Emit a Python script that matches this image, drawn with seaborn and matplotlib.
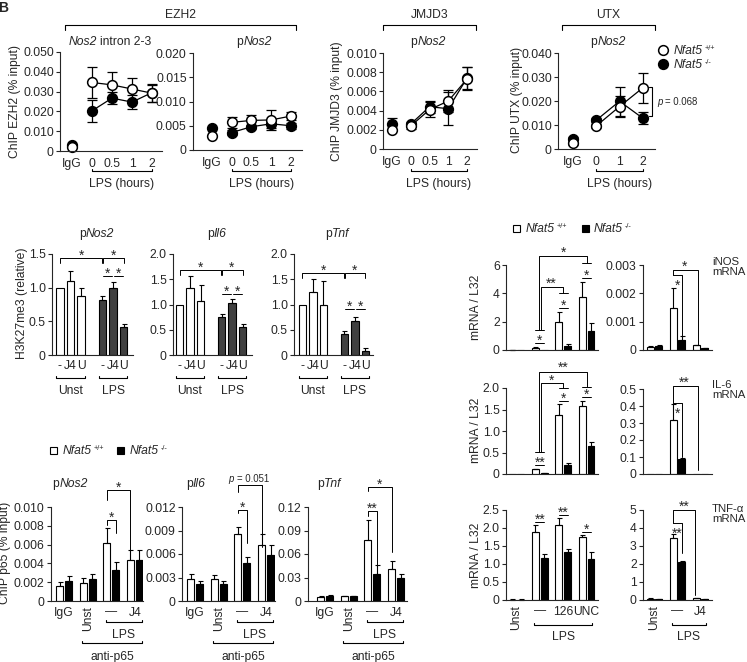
import numpy as np
import pandas as pd
import matplotlib
matplotlib.use("Agg")
import matplotlib.pyplot as plt
import matplotlib.transforms as mtransforms
from matplotlib.lines import Line2D
from matplotlib.patches import Rectangle
import seaborn as sns

# ---------------- data ----------------
# top row: ChIP time courses (% input), LPS hours
time_cats = ["IgG", "0", "0.5", "1", "2"]
utx_cats = ["IgG", "0", "1", "2"]

ezh2_intron_wt = [0.0022, 0.0346, 0.0334, 0.0313, 0.0292]
ezh2_intron_wt_err = [0.0005, 0.0076, 0.0063, 0.0055, 0.0042]
ezh2_intron_ko = [0.0028, 0.0203, 0.0267, 0.0247, 0.0295]
ezh2_intron_ko_err = [0.0005, 0.0055, 0.0030, 0.0036, 0.0045]

ezh2_pnos2_wt = [0.0028, 0.0057, 0.0061, 0.0062, 0.0070]
ezh2_pnos2_wt_err = [0.0002, 0.0012, 0.0011, 0.0021, 0.0009]
ezh2_pnos2_ko = [0.0046, 0.0036, 0.0048, 0.0054, 0.0050]
ezh2_pnos2_ko_err = [0.0002, 0.0006, 0.0004, 0.0008, 0.0006]

jmjd3_wt = [0.0020, 0.0024, 0.0041, 0.0050, 0.0073]
jmjd3_wt_err = [0.0001, 0.0003, 0.0008, 0.0011, 0.0012]
jmjd3_ko = [0.0026, 0.0026, 0.0044, 0.0042, 0.0074]
jmjd3_ko_err = [0.0006, 0.0002, 0.0006, 0.0017, 0.0011]

utx_wt = [0.0026, 0.0096, 0.0177, 0.0255]
utx_wt_err = [0.0010, 0.0008, 0.0045, 0.0062]
utx_ko = [0.0043, 0.0120, 0.0199, 0.0128]
utx_ko_err = [0.0005, 0.0008, 0.0060, 0.0025]

# middle: H3K27me3 (relative)
h3_stim = ["Unst", "LPS"]
h3_inhib = ["-", "J4", "U"]
h3_nos2_unst, h3_nos2_unst_err = [1.00, 1.10, 0.88], [0, 0.15, 0.11]
h3_nos2_lps, h3_nos2_lps_err = [0.82, 1.00, 0.41], [0.06, 0.08, 0.05]
h3_il6_unst, h3_il6_unst_err = [1.00, 1.32, 1.07], [0, 0.25, 0.31]
h3_il6_lps, h3_il6_lps_err = [0.76, 1.02, 0.55], [0.06, 0.08, 0.07]
h3_tnf_unst, h3_tnf_unst_err = [1.00, 1.24, 0.99], [0, 0.26, 0.47]
h3_tnf_lps, h3_tnf_lps_err = [0.41, 0.67, 0.08], [0.06, 0.09, 0.05]

# bottom left: ChIP p65 (% input)
p65_groups = ["IgG", "Unst", "LPS", "LPS+J4"]
p65_ticklabels = ["IgG", "Unst", "\u2014", "J4"]
p65_nos2_wt, p65_nos2_wt_err = [0.00164, 0.0019, 0.0062, 0.0044], [0.0004, 0.0005, 0.0016, 0.0010]
p65_nos2_ko, p65_nos2_ko_err = [0.0021, 0.0023, 0.0033, 0.0044], [0.0006, 0.0006, 0.0008, 0.0010]
p65_il6_wt, p65_il6_wt_err = [0.0028, 0.0028, 0.0085, 0.0072], [0.0007, 0.0005, 0.0010, 0.0013]
p65_il6_ko, p65_il6_ko_err = [0.0022, 0.0022, 0.0048, 0.0059], [0.0003, 0.0004, 0.0008, 0.0013]
p65_tnf_wt, p65_tnf_wt_err = [0.0055, 0.0060, 0.0785, 0.0403], [0.0008, 0.0008, 0.0245, 0.0106]
p65_tnf_ko, p65_tnf_ko_err = [0.0065, 0.0058, 0.0350, 0.0288], [0.0008, 0.0006, 0.0108, 0.0062]

# right: mRNA / L32
mrna_groups = ["Unst", "LPS", "LPS+126", "LPS+UNC"]
mrna_ticklabels = ["Unst", "\u2014", "126", "UNC"]
inos_wt, inos_wt_err = [0.02, 0.16, 2.00, 3.72], [0.01, 0.06, 0.70, 1.06]
inos_ko, inos_ko_err = [0.01, 0.02, 0.31, 1.36], [0, 0, 0.09, 0.52]
il6_wt, il6_wt_err = [0.005, 0.11, 1.38, 1.58], [0, 0.01, 0.24, 0.12]
il6_ko, il6_ko_err = [0.005, 0.02, 0.20, 0.64], [0, 0.005, 0.05, 0.10]
tnf_wt, tnf_wt_err = [0.01, 1.89, 2.09, 1.74], [0.005, 0.20, 0.19, 0.07]
tnf_ko, tnf_ko_err = [0.01, 1.18, 1.34, 1.15], [0.005, 0.09, 0.09, 0.17]

j4_groups = ["Unst", "LPS", "LPS+J4"]
j4_ticklabels = ["Unst", "\u2014", "J4"]
inos_j4_wt, inos_j4_wt_err = [0.00012, 0.0015, 0.00016], [0.00003, 0.0007, 0.00002]
inos_j4_ko, inos_j4_ko_err = [0.00014, 0.00035, 0.00007], [0.00002, 0.00015, 0.00001]
il6_j4_wt, il6_j4_wt_err = [0.002, 0.32, 0.002], [0, 0.09, 0]
il6_j4_ko, il6_j4_ko_err = [0.001, 0.087, 0.001], [0, 0.01, 0]
tnf_j4_wt, tnf_j4_wt_err = [0.08, 3.43, 0.10], [0.02, 0.25, 0.02]
tnf_j4_ko, tnf_j4_ko_err = [0.05, 2.11, 0.05], [0.01, 0.06, 0.01]

# ---------------- style ----------------
sns.set_style("ticks")
plt.rcParams["font.family"] = ["Liberation Sans", "DejaVu Sans"]
plt.rcParams["axes.linewidth"] = 0.8
FS = 8.7
STAR = 10
DARK = "#404040"
W, H = 747, 662

fig = plt.figure(figsize=(W / 100, H / 100), dpi=100)


def fy(y):
    return 1 - y / H


def add_ax(l, t, r, b):
    return fig.add_axes([l / W, fy(b), (r - l) / W, (b - t) / H])


def fline(xs, ys, lw=0.8):
    fig.add_artist(Line2D([x / W for x in xs], [fy(y) for y in ys], color="black", lw=lw))


def ftext(x, y, s, **kw):
    kw.setdefault("fontsize", FS)
    kw.setdefault("ha", "center")
    kw.setdefault("va", "center")
    fig.text(x / W, fy(y), s, **kw)


def rich(x, y, parts, ha="left", fs=FS):
    # parts: (text, italic, size scale, rise px, gap px); y is the baseline in px
    r = fig.canvas.get_renderer()
    arts, total = [], 0
    for s, it, sc, rise, gap in parts:
        t = fig.text(0, 0, s, fontsize=fs * sc, style="italic" if it else "normal",
                     ha="left", va="baseline")
        w = t.get_window_extent(r).width
        arts.append((t, total + gap, rise))
        total += gap + w
    x0 = x - total / 2 if ha == "center" else x
    for t, off, rise in arts:
        t.set_position(((x0 + off) / W, fy(y - rise)))


def geno_label(x, y, sup):
    rich(x, y, [("Nfat5", True, 1, 0, 0), (sup, False, 0.6, 4, 2)])


def ticklabels(vals, nd):
    return ["0" if v == 0 else f"{v:.{nd}f}" for v in vals]


def finish(ax, yticks, nd, xlim, xpad=5):
    sns.despine(ax=ax)
    ax.set_ylim(yticks[0], yticks[-1])
    ax.set_yticks(yticks, ticklabels(yticks, nd))
    ax.set_xlim(*xlim)
    ax.set_xlabel("")
    ax.set_ylabel("")
    ax.tick_params(axis="y", length=3, width=0.8, pad=1.5, labelsize=FS)
    ax.tick_params(axis="x", length=0, pad=xpad, labelsize=FS)


def bracket(ax, x0, x1, y, y0, y1, lw=0.7):
    ax.plot([x0, x0, x1, x1], [y0, y, y, y1], color="black", lw=lw, clip_on=False)


def hline(ax, x0, x1, y, lw=0.7):
    ax.plot([x0, x1], [y, y], color="black", lw=lw, clip_on=False)


def star(ax, x, y, s, dy=6, fs=STAR):
    ax.annotate(s, (x, y), xytext=(0, dy * 0.72 - 0.56 * fs), textcoords="offset points",
                ha="center", va="baseline", fontsize=fs, annotation_clip=False)


def under(ax, x0, x1, ypx, text=None, ty=None, up=2.5):
    tr = mtransforms.blended_transform_factory(ax.transData, fig.transFigure)
    ax.plot([x0, x0, x1, x1], [fy(ypx - up), fy(ypx), fy(ypx), fy(ypx - up)],
            transform=tr, color="black", lw=0.8, clip_on=False)
    if text:
        ax.text((x0 + x1) / 2, fy(ty), text, transform=tr, ha="center", va="center", fontsize=FS)


# ---------------- top row: line panels ----------------
def time_panel(rect, cats, wt, wt_err, ko, ko_err, yticks, nd, xlim):
    ax = add_ax(*rect)
    for vals, errs, face in [(ko, ko_err, "black"), (wt, wt_err, "white")]:
        df = pd.DataFrame({"time": cats, "value": vals})
        kw = dict(x="time", y="value", order=cats, color="black", marker="o", markersize=7,
                  markeredgewidth=1.1, markerfacecolor=face, linewidth=0.9, errorbar=None,
                  clip_on=False, ax=ax)
        sns.pointplot(data=df[df.time == cats[0]], linestyle="none", **kw)
        sns.pointplot(data=df[df.time != cats[0]], linestyle="-", **kw)
        ax.errorbar(range(len(cats)), vals, yerr=errs, fmt="none", ecolor="black",
                    elinewidth=0.9, capsize=3.5, capthick=0.9, zorder=1.5, clip_on=False)
    finish(ax, yticks, nd, xlim)
    under(ax, 1, len(cats) - 1, 171, "LPS (hours)", 184)
    return ax


time_panel((60, 52, 162, 151), time_cats, ezh2_intron_wt, ezh2_intron_wt_err,
           ezh2_intron_ko, ezh2_intron_ko_err, [0, 0.01, 0.02, 0.03, 0.04, 0.05], 3, (-0.6, 4.5))
time_panel((193, 53, 302, 150), time_cats, ezh2_pnos2_wt, ezh2_pnos2_wt_err,
           ezh2_pnos2_ko, ezh2_pnos2_ko_err, [0, 0.005, 0.01, 0.015, 0.02], 3, (-0.96, 4.56))
time_panel((383, 53, 477, 149), time_cats, jmjd3_wt, jmjd3_wt_err,
           jmjd3_ko, jmjd3_ko_err, [0, 0.002, 0.004, 0.006, 0.008, 0.01], 3, (-0.48, 4.53))
time_panel((558, 53, 655, 149), utx_cats, utx_wt, utx_wt_err,
           utx_ko, utx_ko_err, [0, 0.01, 0.02, 0.03, 0.04], 3, (-0.64, 3.52))

# headers
ftext(180, 15, "EZH2")
fline([65, 65, 296, 296], [30, 25, 25, 30])
ftext(430, 15, "JMJD3")
fline([383, 383, 476, 476], [30, 25, 25, 30])
ftext(608, 15, "UTX")
fline([562, 562, 655, 655], [30, 25, 25, 30])
rich(110, 45, [("Nos2", True, 1, 0, 0), ("intron 2-3", False, 1, 0, 3)], ha="center")
for xc in (254, 428, 608):
    rich(xc, 45, [("p", False, 1, 0, 0), ("Nos2", True, 1, 0, 0)], ha="center")
ftext(15, 101, "ChIP EZH2 (% input)", rotation=90)
ftext(337, 101, "ChIP JMJD3 (% input)", rotation=90)
ftext(517, 100, "ChIP UTX (% input)", rotation=90)
fline([649, 652, 652, 649], [87, 87, 116, 116])
rich(657, 105, [("p", True, 0.8, 0, 0), ("= 0.068", False, 0.8, 0, 3)])
fig.add_artist(Line2D([663 / W], [fy(50)], marker="o", ms=7, mew=1.1, mfc="white", mec="black", ls="none"))
fig.add_artist(Line2D([663 / W], [fy(64)], marker="o", ms=7, mew=1.1, mfc="black", mec="black", ls="none"))
geno_label(674, 54, "+/+")
geno_label(674, 68, "-/-")
fig.text(-0.002, fy(12), "B", fontsize=10, fontweight="bold")


# ---------------- middle: H3K27me3 ----------------
def h3_panel(rect, unst, unst_err, lps, lps_err, yticks, xlim, big_y, end_y, short_y, title):
    ax = add_ax(*rect)
    df = pd.DataFrame({"stim": ["Unst"] * 3 + ["LPS"] * 3, "inhib": h3_inhib * 2,
                       "value": unst + lps, "err": unst_err + lps_err})
    sns.barplot(data=df, x="stim", y="value", hue="inhib", order=h3_stim, hue_order=h3_inhib,
                palette=["white"] * 3, edgecolor="black", linewidth=0.8, errorbar=None,
                width=0.75, gap=0.3, legend=False, ax=ax)
    c = {}
    for cont, inh in zip(ax.containers, h3_inhib):
        for bar, st in zip(cont, h3_stim):
            row = df[(df.stim == st) & (df.inhib == inh)].iloc[0]
            xc = bar.get_x() + bar.get_width() / 2
            c[(st, inh)] = xc
            if st == "LPS":
                bar.set_facecolor(DARK)
            if row.err > 0:
                ax.errorbar(xc, row.value, yerr=[[0], [row.err]], fmt="none", ecolor="black",
                            elinewidth=0.8, capsize=1.8, capthick=0.8, clip_on=False)
    finish(ax, yticks, 1, xlim, xpad=3.5)
    keys = [(s, i) for s in h3_stim for i in h3_inhib]
    ax.set_xticks([c[k] for k in keys], [k[1] for k in keys])
    a, b, j, u = c[("Unst", "-")], c[("LPS", "-")], c[("LPS", "J4")], c[("LPS", "U")]
    bracket(ax, a, b - 0.02, big_y, end_y, end_y)
    star(ax, (a + b) / 2, big_y, "*", 6)
    bracket(ax, b + 0.02, u, big_y, end_y, end_y)
    star(ax, (b + u) / 2, big_y, "*", 6)
    hline(ax, b + 0.02, j - 0.02, short_y)
    star(ax, (b + j) / 2, short_y, "*", 6)
    hline(ax, j + 0.02, u - 0.02, short_y)
    star(ax, (j + u) / 2, short_y, "*", 6)
    under(ax, c[("Unst", "-")] - 0.08, c[("Unst", "U")] + 0.08, 378, "Unst", 391)
    under(ax, c[("LPS", "-")] - 0.08, c[("LPS", "U")] + 0.08, 378, "LPS", 391)
    rich((rect[0] + rect[2]) / 2 + 4, 237, title, ha="center")
    return ax


h3_panel((52, 254, 133, 355), h3_nos2_unst, h3_nos2_unst_err, h3_nos2_lps, h3_nos2_lps_err,
         [0, 0.5, 1.0, 1.5], (-0.435, 1.47), 1.44, 1.37, 1.17,
         [("p", False, 1, 0, 0), ("Nos2", True, 1, 0, 0)])
h3_panel((173, 254, 252, 355), h3_il6_unst, h3_il6_unst_err, h3_il6_lps, h3_il6_lps_err,
         [0, 0.5, 1.0, 1.5, 2.0], (-0.405, 1.476), 1.68, 1.58, 1.21,
         [("p", False, 1, 0, 0), ("Il6", True, 1, 0, 0)])
h3_panel((294, 254, 373, 355), h3_tnf_unst, h3_tnf_unst_err, h3_tnf_lps, h3_tnf_lps_err,
         [0, 0.5, 1.0, 1.5, 2.0], (-0.452, 1.43), 1.62, 1.52, 0.91,
         [("p", False, 1, 0, 0), ("Tnf", True, 1, 0, 0)])
ftext(22, 303, "H3K27me3 (relative)", rotation=90)


# ---------------- pair bar panels ----------------
def pair_panel(rect, groups, labels, wt, wt_err, ko, ko_err, yticks, nd, xlim, show_x=True):
    ax = add_ax(*rect)
    df = pd.DataFrame({"group": groups * 2, "value": wt + ko, "err": wt_err + ko_err,
                       "geno": ["wt"] * len(groups) + ["ko"] * len(groups)})
    sns.barplot(data=df, x="group", y="value", hue="geno", order=groups, hue_order=["wt", "ko"],
                palette={"wt": "white", "ko": "black"}, edgecolor="black", linewidth=0.8,
                errorbar=None, width=0.76, gap=0.22, legend=False, ax=ax)
    c = {}
    for cont, g in zip(ax.containers, ["wt", "ko"]):
        sub = df[df.geno == g]
        for bar, grp, v, e in zip(cont, sub.group, sub.value, sub.err):
            xc = bar.get_x() + bar.get_width() / 2
            c[(grp, g)] = xc
            if e > 0:
                ax.errorbar(xc, v, yerr=[[0], [e]], fmt="none", ecolor="black",
                            elinewidth=0.8, capsize=1.8, capthick=0.8, clip_on=False)
    finish(ax, yticks, nd, xlim, xpad=4)
    if show_x:
        ax.set_xticks(range(len(groups)), labels)
        for lab in ax.get_xticklabels():
            if lab.get_text() == "Unst":
                lab.set_rotation(90)
    else:
        ax.set_xticks([])
    return ax, c


# bottom-left p65 ChIP
def p65_panel(rect, wt, wt_err, ko, ko_err, yticks, nd, xlim, title, tx):
    ax, c = pair_panel(rect, p65_groups, p65_ticklabels, wt, wt_err, ko, ko_err, yticks, nd, xlim)
    under(ax, c[("LPS", "wt")] - 0.05, c[("LPS+J4", "ko")] + 0.1, 622, "LPS", 635)
    under(ax, c[("Unst", "wt")] - 0.05, c[("LPS+J4", "ko")] + 0.1, 643, "anti-p65", 657)
    rich(tx, 487, title, ha="center")
    return ax, c


ax, c = p65_panel((51, 507, 143, 601), p65_nos2_wt, p65_nos2_wt_err, p65_nos2_ko, p65_nos2_ko_err,
                  [0, 0.002, 0.004, 0.006, 0.008, 0.010], 3, (-0.55, 3.34),
                  [("p", False, 1, 0, 0), ("Nos2", True, 1, 0, 0)], 70)
lw, lk, jw = c[("LPS", "wt")], c[("LPS", "ko")], c[("LPS+J4", "wt")]
bracket(ax, lw, lk, 0.00862, 0.0081, 0.00723)
star(ax, (lw + lk) / 2, 0.00862, "*", 6)
bracket(ax, lw, jw, 0.0118, 0.01075, 0.0052)
star(ax, (lw + jw) / 2, 0.0118, "*", 6)

ax, c = p65_panel((182, 507, 275, 601), p65_il6_wt, p65_il6_wt_err, p65_il6_ko, p65_il6_ko_err,
                  [0, 0.003, 0.006, 0.009, 0.012], 3, (-0.55, 3.38),
                  [("p", False, 1, 0, 0), ("Il6", True, 1, 0, 0)], 196)
lw, lk, jw = c[("LPS", "wt")], c[("LPS", "ko")], c[("LPS+J4", "wt")]
bracket(ax, lw, lk, 0.01162, 0.01124, 0.0074)
star(ax, (lw + lk) / 2, 0.01162, "*", 6)
bracket(ax, lw, jw, 0.01481, 0.01392, 0.0069)
rich(249, 482, [("p", True, 0.8, 0, 0), ("= 0.051", False, 0.8, 0, 3)], ha="center")

ax, c = p65_panel((308, 507, 407, 601), p65_tnf_wt, p65_tnf_wt_err, p65_tnf_ko, p65_tnf_ko_err,
                  [0, 0.03, 0.06, 0.09, 0.12], 2, (-0.72, 3.46),
                  [("p", False, 1, 0, 0), ("Tnf", True, 1, 0, 0)], 329)
lw, lk, jw = c[("LPS", "wt")], c[("LPS", "ko")], c[("LPS+J4", "wt")]
bracket(ax, lw, lk, 0.1149, 0.1085, 0.046)
star(ax, (lw + lk) / 2, 0.1149, "**", 6)
bracket(ax, lw, jw, 0.1456, 0.1405, 0.0626)
star(ax, (lw + jw) / 2, 0.1456, "*", 6)
ftext(5, 553, "ChIP p65 (% input)", rotation=90)

# legend bottom-left
fig.add_artist(Rectangle((50 / W, fy(454)), 7 / W, 7 / H, fc="white", ec="black", lw=0.8))
geno_label(63, 454, "+/+")
fig.add_artist(Rectangle((117 / W, fy(454)), 7 / W, 7 / H, fc="black", ec="black", lw=0.8))
geno_label(130, 454, "-/-")

# ---------------- right column: mRNA ----------------
LX, RX = (-0.45, 3.49), (-0.5, 2.5)

# iNOS
ax, c = pair_panel((506, 265, 598, 350), mrna_groups, mrna_ticklabels, inos_wt, inos_wt_err,
                   inos_ko, inos_ko_err, [0, 2, 4, 6], 0, LX, show_x=False)
for g, y, s in [("LPS", 0.49, "*"), ("LPS+126", 2.97, "*"), ("LPS+UNC", 5.08, "*")]:
    hline(ax, c[(g, "wt")], c[(g, "ko")], y)
    star(ax, (c[(g, "wt")] + c[(g, "ko")]) / 2, y, s, 6)
hline(ax, c[("LPS", "wt")], c[("LPS", "ko")], 1.41)
hline(ax, c[("LPS+126", "wt")], c[("LPS+126", "ko")], 4.02)
hline(ax, c[("LPS+UNC", "wt")], c[("LPS+UNC", "ko")], 6.14)
bracket(ax, 1.05, 2.0, 4.45, 1.41, 4.02)
star(ax, 1.5, 4.45, "**", 7)
bracket(ax, 0.95, 3.0, 6.64, 1.41, 6.14)
star(ax, 2.0, 6.64, "*", 7)

ax, c = pair_panel((643, 265, 712, 350), j4_groups, j4_ticklabels, inos_j4_wt, inos_j4_wt_err,
                   inos_j4_ko, inos_j4_ko_err, [0, 0.001, 0.002, 0.003], 3, RX, show_x=False)
lw, lk = c[("LPS", "wt")], c[("LPS", "ko")]
bracket(ax, lw, 1.9, 0.00282, 0.00265, 0.00018)
star(ax, 1.3, 0.00282, "*", 7)
bracket(ax, lw, lk, 0.00265, 0.00265, 0.00042)
star(ax, (lw + lk) / 2, 0.00265, "*", -7)

# IL-6
ax, c = pair_panel((506, 388, 598, 474), mrna_groups, mrna_ticklabels, il6_wt, il6_wt_err,
                   il6_ko, il6_ko_err, [0, 0.5, 1.0, 1.5, 2.0], 1, LX, show_x=False)
for g, y, s in [("LPS", 0.21, "**"), ("LPS+126", 1.70, "*"), ("LPS+UNC", 1.80, "*")]:
    hline(ax, c[(g, "wt")], c[(g, "ko")], y)
    star(ax, (c[(g, "wt")] + c[(g, "ko")]) / 2, y, s, 6)
hline(ax, c[("LPS", "wt")], c[("LPS", "ko")], 0.51)
hline(ax, c[("LPS+126", "wt")], c[("LPS+126", "ko")], 2.0)
hline(ax, c[("LPS+UNC", "wt")], c[("LPS+UNC", "ko")], 2.02)
bracket(ax, 1.05, 2.0, 2.12, 0.51, 2.0)
star(ax, 1.5, 2.12, "*", 6)
bracket(ax, 0.95, 3.0, 2.37, 0.51, 2.02)
star(ax, 2.0, 2.37, "**", 8)

ax, c = pair_panel((643, 389, 712, 474), j4_groups, j4_ticklabels, il6_j4_wt, il6_j4_wt_err,
                   il6_j4_ko, il6_j4_ko_err, [0, 0.1, 0.2, 0.3, 0.4, 0.5], 1, RX, show_x=False)
lw, lk = c[("LPS", "wt")], c[("LPS", "ko")]
bracket(ax, lw, 1.9, 0.517, 0.417, 0.024)
star(ax, 1.3, 0.517, "**", 7)
bracket(ax, lw, lk, 0.417, 0.417, 0.10)
star(ax, (lw + lk) / 2, 0.417, "*", -7)

# TNF-a
ax, c = pair_panel((506, 510, 598, 600), mrna_groups, mrna_ticklabels, tnf_wt, tnf_wt_err,
                   tnf_ko, tnf_ko_err, [0, 0.5, 1.0, 1.5, 2.0, 2.5], 1, LX)
for g, y, s in [("LPS", 2.17, "**"), ("LPS+126", 2.36, "**"), ("LPS+UNC", 1.89, "*")]:
    hline(ax, c[(g, "wt")], c[(g, "ko")], y)
    star(ax, (c[(g, "wt")] + c[(g, "ko")]) / 2, y, s, 6)
under(ax, c[("LPS", "wt")] - 0.05, c[("LPS+UNC", "ko")] + 0.05, 625, "LPS", 637)

ax, c = pair_panel((643, 510, 712, 600), j4_groups, j4_ticklabels, tnf_j4_wt, tnf_j4_wt_err,
                   tnf_j4_ko, tnf_j4_ko_err, [0, 1, 2, 3, 4, 5], 0, RX)
lw, lk = c[("LPS", "wt")], c[("LPS", "ko")]
bracket(ax, lw, 1.76, 5.0, 4.28, 0.28)
star(ax, 1.3, 5.0, "**", 7)
bracket(ax, lw, lk, 4.28, 4.28, 2.6)
star(ax, (lw + lk) / 2, 4.28, "**", -7)
under(ax, c[("LPS", "wt")] - 0.05, c[("LPS+J4", "ko")] + 0.05, 625, "LPS", 637)

for yc in (307, 430, 555):
    ftext(476, yc, "mRNA / L32", rotation=90)
ftext(712, 267, "iNOS\nmRNA", ha="left", linespacing=1.0, fontsize=8.2)
ftext(712, 390, "IL-6\nmRNA", ha="left", linespacing=1.0, fontsize=8.2)
ftext(712, 514, "TNF-\u03b1\nmRNA", ha="left", linespacing=1.0, fontsize=8.2)

# legend right
fig.add_artist(Rectangle((513 / W, fy(232)), 7 / W, 7 / H, fc="white", ec="black", lw=0.8))
geno_label(526, 232, "+/+")
fig.add_artist(Rectangle((582 / W, fy(232)), 7 / W, 7 / H, fc="black", ec="black", lw=0.8))
geno_label(594, 232, "-/-")

fig.savefig("out.png", dpi=100)
